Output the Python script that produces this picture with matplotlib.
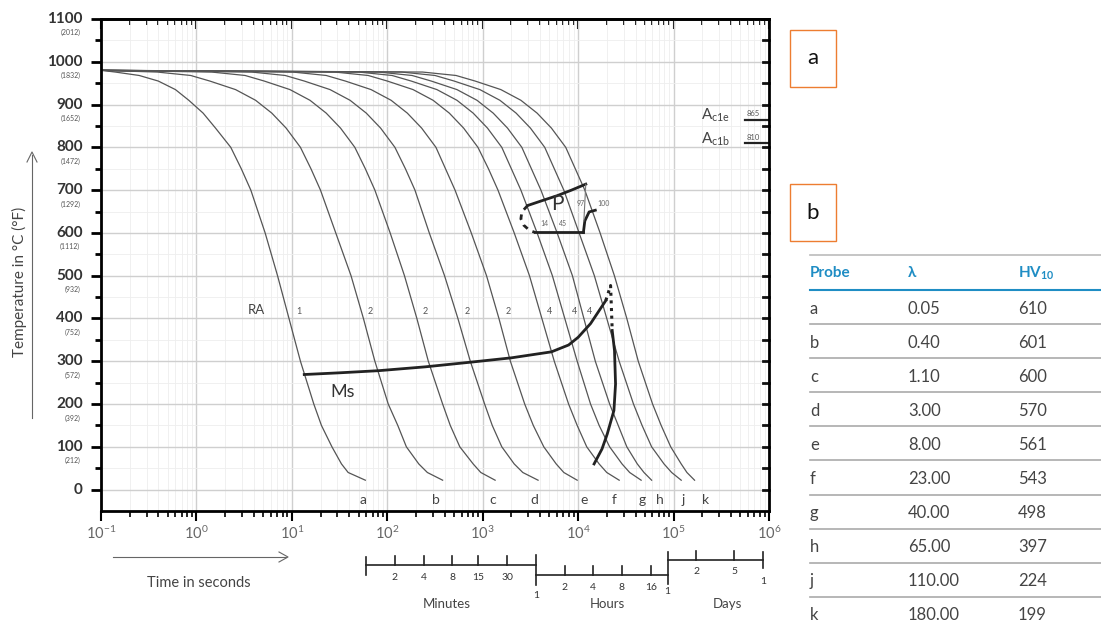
import numpy as np
import matplotlib.pyplot as plt
from matplotlib.patches import Rectangle
from matplotlib.lines import Line2D
from matplotlib.transforms import blended_transform_factory

plt.rcParams['font.family'] = ['Lato', 'DejaVu Sans']
plt.rcParams['mathtext.fontset'] = 'dejavusans'

# --- Tabelle rechts
probes = ['a', 'b', 'c', 'd', 'e', 'f', 'g', 'h', 'j', 'k']
lambdas = ['0.05', '0.40', '1.10', '3.00', '8.00', '23.00', '40.00', '65.00', '110.00', '180.00']
hv10 = [610, 601, 600, 570, 561, 543, 498, 397, 224, 199]

# --- Abkuehlkurven: Temperatur (degC) und log10(Zeit in s)
curve_temps = [980, 976, 968, 955, 935, 910, 880, 845, 800, 750, 700,
               600, 500, 400, 300, 200, 150, 100, 60, 40, 22]
logt_a = [-1, -0.85, -0.60, -0.40, -0.22, -0.08, 0.07, 0.20, 0.36, 0.47, 0.57,
          0.72, 0.85, 0.97, 1.09, 1.23, 1.31, 1.42, 1.52, 1.59, 1.77]
logt_b = [-1, -0.41, -0.06, 0.14, 0.41, 0.62, 0.79, 0.94, 1.09, 1.20, 1.30,
          1.46, 1.62, 1.75, 1.87, 2.01, 2.11, 2.20, 2.33, 2.42, 2.58]
logt_c = [-1, 0.16, 0.51, 0.71, 0.98, 1.19, 1.36, 1.51, 1.66, 1.77, 1.87,
          2.03, 2.18, 2.31, 2.43, 2.58, 2.66, 2.76, 2.90, 2.98, 3.13]
logt_d = [-1, 0.58, 0.93, 1.13, 1.40, 1.61, 1.78, 1.93, 2.08, 2.19, 2.29,
          2.44, 2.60, 2.74, 2.87, 3.02, 3.10, 3.20, 3.33, 3.42, 3.58]
logt_e = [-1, 1.01, 1.36, 1.56, 1.83, 2.04, 2.21, 2.36, 2.51, 2.61, 2.71,
          2.88, 3.04, 3.17, 3.29, 3.44, 3.53, 3.64, 3.77, 3.85, 3.99]
logt_f = [-1, 1.45, 1.80, 2.00, 2.27, 2.48, 2.65, 2.80, 2.95, 3.06, 3.16,
          3.33, 3.49, 3.62, 3.75, 3.90, 3.99, 4.09, 4.22, 4.30, 4.43]
logt_g = [-1, 1.70, 2.05, 2.25, 2.52, 2.73, 2.90, 3.05, 3.20, 3.30, 3.40,
          3.57, 3.73, 3.86, 3.99, 4.13, 4.22, 4.33, 4.46, 4.54, 4.66]
logt_h = [-1, 1.91, 2.26, 2.46, 2.73, 2.94, 3.11, 3.26, 3.41, 3.51, 3.61,
          3.78, 3.94, 4.06, 4.18, 4.33, 4.42, 4.51, 4.62, 4.69, 4.77]
logt_j = [-1, 2.15, 2.50, 2.70, 2.97, 3.18, 3.35, 3.50, 3.65, 3.75, 3.85,
          4.01, 4.17, 4.30, 4.43, 4.58, 4.67, 4.77, 4.90, 4.98, 5.08]
logt_k = [-1, 2.37, 2.72, 2.92, 3.19, 3.40, 3.57, 3.72, 3.87, 3.97, 4.07,
          4.23, 4.38, 4.51, 4.63, 4.78, 4.87, 4.97, 5.08, 5.14, 5.22]
curves = [logt_a, logt_b, logt_c, logt_d, logt_e, logt_f, logt_g, logt_h, logt_j, logt_k]
curve_label_logt = [1.75, 2.51, 3.10, 3.54, 4.06, 4.375, 4.67, 4.86, 5.10, 5.33]

# Zahlen an den Kurven (~416 degC)
rate_labels = ['1', '2', '2', '2', '2', '4', '4', '4']
rate_logt = [1.07, 1.82, 2.40, 2.84, 3.27, 3.70, 3.96, 4.12]

# Ms-Linie
ms_logt = [1.13, 1.5, 1.91, 2.4, 2.88, 3.3, 3.72, 3.9, 4.0, 4.13, 4.29]
ms_temp = [269, 273, 278, 287, 298, 308, 322, 338, 356, 388, 442]
# gepunktete Spitze
dot_logt = [4.29, 4.34, 4.357]
dot_temp = [442, 477, 372]
# Bainit-Ende
bf_logt = [4.357, 4.381, 4.392, 4.375, 4.305, 4.25, 4.167]
bf_temp = [372, 325, 247, 185, 130, 95, 60]

# Perlit-Bereich
p_top_logt = [3.47, 3.63, 3.78, 3.93, 4.08]
p_top_temp = [664, 676, 687, 700, 714]
p_left_logt = [3.47, 3.41, 3.40, 3.43, 3.49, 3.55]
p_left_temp = [664, 649, 633, 618, 606, 601]
p_bot_logt = [3.55, 4.055]
p_bot_temp = [601, 601]
p_hook_logt = [4.055, 4.07, 4.115, 4.18]
p_hook_temp = [601, 628, 649, 653]
p_right_logt = [4.08, 4.06]
p_right_temp = [714, 628]

# Ac1-Temperaturen
ac1e = 865
ac1b = 810

# Zeitskalen unten (Sekunden)
min_ticks = [60, 120, 240, 480, 900, 1800, 3600]
min_labels = ['', '2', '4', '8', '15', '30', '']
hour_ticks = [3600, 7200, 14400, 28800, 57600, 86400]
hour_labels = ['', '2', '4', '8', '16', '']
day_ticks = [86400, 172800, 432000, 864000]
day_labels = ['', '2', '5', '']

W, H = 1101, 628


def fx(px):
    return px / W


def fy(py):
    return 1 - py / H


fig = plt.figure(figsize=(W / 100, H / 100), dpi=100)
ax = fig.add_axes([fx(101), fy(511), (769 - 101) / W, (511 - 19) / H])
ax.set_xscale('log')
ax.set_xlim(1e-1, 1e6)
ax.set_ylim(-50, 1100)
ax.set_xticks([10.0 ** i for i in range(-1, 7)])

ax.set_yticks(range(0, 1101, 100))
ax.set_yticks(range(50, 1100, 100), minor=True)
ax.grid(which='major', color='#cfcfcf', lw=1.0)
ax.grid(which='minor', color='#eeeeee', lw=0.6)
ax.set_axisbelow(True)
for s in ax.spines.values():
    s.set_linewidth(2)
ax.tick_params(axis='y', which='major', direction='out', length=7, width=2, labelleft=False)
ax.tick_params(axis='y', which='minor', direction='out', length=4, width=2)
ax.tick_params(axis='x', which='major', direction='out', length=7, width=1.5,
               labelsize=10.5, labelcolor='#666666', pad=3)
ax.tick_params(axis='x', which='minor', direction='out', length=4, width=1.2)

sec_t = ax.secondary_xaxis('top')
sec_t.tick_params(which='major', direction='in', length=7, width=1.5, labeltop=False)
sec_t.tick_params(which='minor', direction='in', length=4, width=1.2)
sec_t.spines['top'].set_linewidth(2)

ytr = ax.get_yaxis_transform()
# rechte Achse: Striche nach innen
for T in range(0, 1101, 50):
    ax.plot([1, 0.991], [T, T], transform=ytr, color='#111111', lw=2, clip_on=False)

for T in range(0, 1101, 100):
    ax.annotate(str(T), xy=(0, T), xycoords=ytr, xytext=(-13, 0), textcoords='offset points',
                ha='right', va='center', fontsize=11, fontweight='bold', color='#333333')
    if T > 0:
        ax.annotate('(%d)' % round(T * 9 / 5 + 32), xy=(0, T), xycoords=ytr, xytext=(-15, -10),
                    textcoords='offset points', ha='right', va='center', fontsize=5, color='#555555')

# Kurven
for lt in curves:
    ax.plot(10 ** np.array(lt), curve_temps, color='#555555', lw=0.9)
for lab, lt in zip(probes, curve_label_logt):
    ax.text(10 ** lt, -24, lab, ha='center', va='center', fontsize=10, color='#444444')
for lab, lt in zip(rate_labels, rate_logt):
    ax.text(10 ** lt, 416, lab, ha='center', va='center', fontsize=6.5, color='#555555')

ax.plot(10 ** np.array(ms_logt), ms_temp, color='#222222', lw=2)
ax.plot(10 ** np.array(dot_logt), dot_temp, color='#222222', lw=2.2, ls=(0, (1, 1.5)))
ax.plot(10 ** np.array(bf_logt), bf_temp, color='#222222', lw=2)

ax.plot(10 ** np.array(p_top_logt), p_top_temp, color='#222222', lw=2)
ax.plot(10 ** np.array(p_left_logt), p_left_temp, color='#222222', lw=2, ls=(0, (2, 2)))
ax.plot(10 ** np.array(p_bot_logt), p_bot_temp, color='#222222', lw=2)
ax.plot(10 ** np.array(p_hook_logt), p_hook_temp, color='#222222', lw=2)
ax.plot(10 ** np.array(p_right_logt), p_right_temp, color='#777777', lw=0.8)
ax.text(10 ** 3.78, 668, 'P', ha='center', va='center', fontsize=15, color='#333333')
ax.text(10 ** 4.03, 668, '97', ha='center', va='center', fontsize=5, color='#666666')
ax.text(10 ** 4.27, 668, '100', ha='center', va='center', fontsize=5, color='#666666')
ax.text(10 ** 3.65, 621, '14', ha='center', va='center', fontsize=5, color='#666666')
ax.text(10 ** 3.84, 621, '45', ha='center', va='center', fontsize=5, color='#666666')

ax.text(10 ** 0.625, 419, 'RA', ha='center', va='center', fontsize=9.5, color='#444444')
ax.text(10 ** 1.53, 228, 'Ms', ha='center', va='center', fontsize=13, color='#333333')

# Ac1
for T, sub, lab in [(ac1e, 'c1e', '865'), (ac1b, 'c1b', '810')]:
    ax.plot([10 ** 5.745, 1e6], [T, T], color='#222222', lw=1.6, clip_on=False)
    ax.text(10 ** 5.77, T + 6, lab, ha='left', va='bottom', fontsize=5.5, color='#555555')
    ax.text(10 ** 5.29, T + 10, r'A$_{\mathregular{%s}}$' % sub, ha='left', va='center',
            fontsize=11, color='#444444')

# Achsbeschriftungen
fig.text(fx(19), fy(282), 'Temperature in °C (°F)', rotation=90, ha='center', va='center',
         fontsize=11, color='#444444')
fig.add_artist(Line2D([fx(32), fx(32)], [fy(418), fy(155)], color='#666666', lw=0.8))
fig.add_artist(Line2D([fx(27), fx(32), fx(37)], [fy(162), fy(152), fy(162)], color='#666666', lw=0.8))
fig.text(fx(199), fy(583), 'Time in seconds', ha='center', va='center', fontsize=10.5, color='#444444')
fig.add_artist(Line2D([fx(113), fx(286)], [fy(557), fy(557)], color='#666666', lw=0.8))
fig.add_artist(Line2D([fx(279), fx(288), fx(279)], [fy(552), fy(557), fy(562)], color='#666666', lw=0.8))

# Zeitskalen
tr = blended_transform_factory(ax.transData, fig.transFigure)


def vline(x, y0, y1):
    ax.add_line(Line2D([x, x], [fy(y0), fy(y1)], transform=tr, color='#222222', lw=1.2, clip_on=False))


def label(x, y, s):
    ax.text(x, fy(y), s, transform=tr, ha='center', va='center', fontsize=7.5,
            color='#333333', clip_on=False)


def scale_bar(ticks, labels, y_line, y_lab):
    ax.add_line(Line2D([ticks[0], ticks[-1]], [fy(y_line), fy(y_line)], transform=tr,
                       color='#222222', lw=1.2, clip_on=False))
    for x, lab in zip(ticks[1:-1], labels[1:-1]):
        vline(x, y_line, y_line - 9)
        label(x, y_lab, lab)


scale_bar(min_ticks, min_labels, 565, 577)
scale_bar(hour_ticks, hour_labels, 575, 587)
scale_bar(day_ticks, day_labels, 560, 572)
vline(min_ticks[0], 557, 575)
vline(hour_ticks[0], 555, 585)
vline(day_ticks[0], 552, 584)
vline(day_ticks[-1], 552, 568)
label(hour_ticks[0], 595, '1')
label(day_ticks[0], 591, '1')
label(day_ticks[-1], 582, '1')
fig.text(fx(447), fy(604), 'Minutes', ha='center', va='center', fontsize=9.5, color='#444444')
fig.text(fx(607), fy(604), 'Hours', ha='center', va='center', fontsize=9.5, color='#444444')
fig.text(fx(727), fy(604), 'Days', ha='center', va='center', fontsize=9.5, color='#444444')

# Kaestchen a / b
for y0, y1, lab in [(30, 87, 'a'), (184, 241, 'b')]:
    fig.add_artist(Rectangle((fx(790), fy(y1)), fx(836) - fx(790), fy(y0) - fy(y1),
                             fill=False, edgecolor='#ed7d31', lw=1.0))
    fig.text(fx(813), fy((y0 + y1) / 2), lab, ha='center', va='center', fontsize=16, color='#111111')

# Tabelle
blue = '#1f8dc4'
col_x = [810, 908, 1018]
fig.add_artist(Line2D([fx(810), 1], [fy(255), fy(255)], color='#bbbbbb', lw=1.2))
fig.add_artist(Line2D([fx(810), 1], [fy(290), fy(290)], color=blue, lw=1.5))
fig.text(fx(col_x[0]), fy(273), 'Probe', ha='left', va='center', fontsize=11, color=blue, fontweight='bold')
fig.text(fx(col_x[1]), fy(273), 'λ', ha='left', va='center', fontsize=11, color=blue, fontweight='bold')
fig.text(fx(col_x[2]), fy(273), r'HV$_{\mathregular{10}}$', ha='left', va='center', fontsize=11,
         color=blue, fontweight='bold')
for i, (p, l, h) in enumerate(zip(probes, lambdas, hv10)):
    yc = 308.5 + i * 34.1
    for x, s in zip(col_x, [p, l, str(h)]):
        fig.text(fx(x), fy(yc), s, ha='left', va='center', fontsize=12, color='#444444')
    if i < len(probes) - 1:
        fig.add_artist(Line2D([fx(810), 1], [fy(yc + 15.5), fy(yc + 15.5)], color='#aaaaaa', lw=1.2))

fig.savefig('out.png', dpi=100)
